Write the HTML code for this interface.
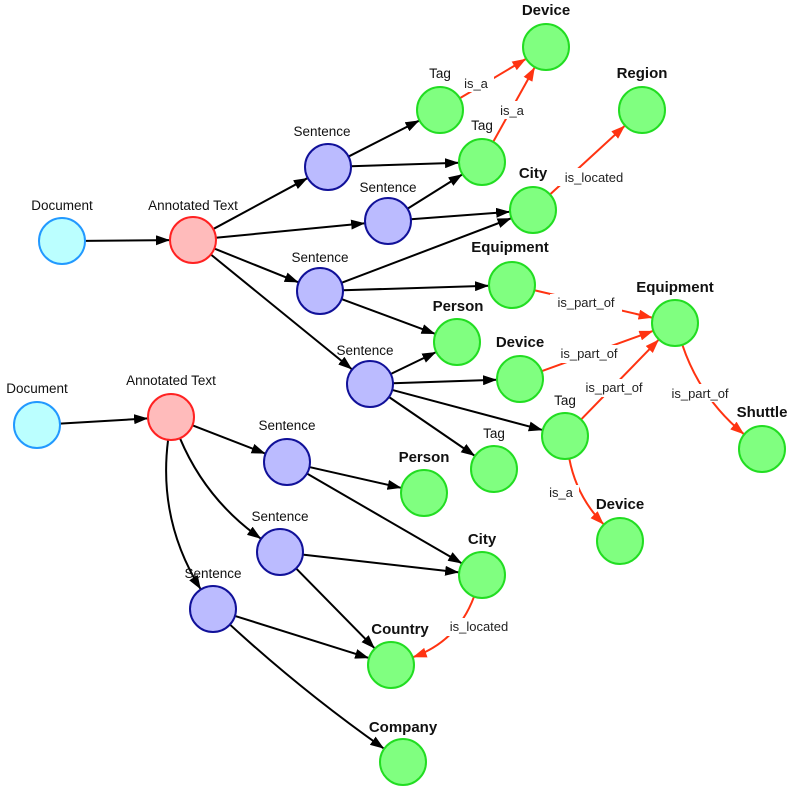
<!DOCTYPE html>
<html><head><meta charset="utf-8"><style>
html,body{margin:0;padding:0;background:#fff;width:794px;height:787px;overflow:hidden}
text{font-family:"Liberation Sans",sans-serif;font-size:13.5px;fill:#111;text-anchor:middle}
text.b{font-weight:bold;font-size:15px}
text.e{font-size:13px;fill:#222}
</style></head><body>
<svg id="s" width="794" height="787" xmlns="http://www.w3.org/2000/svg">
<defs>
<marker id="ak" viewBox="0 0 14 10" refX="14" refY="5" markerWidth="14" markerHeight="10" markerUnits="userSpaceOnUse" orient="auto"><path d="M0,0 L14,5 L0,10 z" fill="#000"/></marker>
<marker id="ar" viewBox="0 0 14 10" refX="14" refY="5" markerWidth="14" markerHeight="10" markerUnits="userSpaceOnUse" orient="auto"><path d="M0,0 L14,5 L0,10 z" fill="#ff3311"/></marker>
</defs>
<g id="edges"></g>
<g id="nodes"></g>
<g id="labels">
<text x="62" y="210">Document</text>
<text x="193" y="210">Annotated Text</text>
<text x="322" y="136">Sentence</text>
<text x="388" y="192">Sentence</text>
<text x="320" y="262">Sentence</text>
<text x="365" y="355">Sentence</text>
<text x="440" y="78">Tag</text>
<text x="482" y="130">Tag</text>
<text x="494" y="438">Tag</text>
<text x="565" y="405">Tag</text>
<text class="b" x="546" y="15">Device</text>
<text class="b" x="642" y="78">Region</text>
<text class="b" x="533" y="178">City</text>
<text class="b" x="510" y="252">Equipment</text>
<text class="b" x="675" y="292">Equipment</text>
<text class="b" x="458" y="311">Person</text>
<text class="b" x="520" y="347">Device</text>
<text class="b" x="762" y="417">Shuttle</text>
<text class="b" x="620" y="509">Device</text>
<text x="37" y="393">Document</text>
<text x="171" y="385">Annotated Text</text>
<text x="287" y="430">Sentence</text>
<text x="280" y="521">Sentence</text>
<text x="213" y="578">Sentence</text>
<text class="b" x="424" y="462">Person</text>
<text class="b" x="482" y="544">City</text>
<text class="b" x="400" y="634">Country</text>
<text class="b" x="403" y="732">Company</text>
</g>
<g id="elabels">
<rect x="458" y="74" width="36" height="18" fill="#fff"/><text class="e" x="476" y="88">is_a</text>
<rect x="494" y="101" width="36" height="18" fill="#fff"/><text class="e" x="512" y="115">is_a</text>
<rect x="558" y="168" width="72" height="18" fill="#fff"/><text class="e" x="594" y="182">is_located</text>
<rect x="550" y="294" width="72" height="18" fill="#fff"/><text class="e" x="586" y="307">is_part_of</text>
<rect x="553" y="345" width="72" height="18" fill="#fff"/><text class="e" x="589" y="358">is_part_of</text>
<rect x="578" y="379" width="72" height="18" fill="#fff"/><text class="e" x="614" y="392">is_part_of</text>
<rect x="664" y="384" width="72" height="18" fill="#fff"/><text class="e" x="700" y="398">is_part_of</text>
<rect x="543" y="485" width="36" height="18" fill="#fff"/><text class="e" x="561" y="497">is_a</text>
<rect x="444" y="618" width="72" height="18" fill="#fff"/><text class="e" x="479" y="631">is_located</text>
</g>
</svg>
<script>
var N={
D1:[62,241,'c'],A1:[193,240,'r'],S1:[328,167,'b'],S2:[388,221,'b'],S3:[320,291,'b'],S4:[370,384,'b'],
T1:[440,110,'g'],Dv1:[546,47,'g'],T2:[482,162,'g'],Rg:[642,110,'g'],C1:[533,210,'g'],E1:[512,285,'g'],
E2:[675,323,'g'],P1:[457,342,'g'],Dv2:[520,379,'g'],T3:[565,436,'g'],T4:[494,469,'g'],Sh:[762,449,'g'],Dv3:[620,541,'g'],
D2:[37,425,'c'],A2:[171,417,'r'],S5:[287,462,'b'],S6:[280,552,'b'],S7:[213,609,'b'],P2:[424,493,'g'],C2:[482,575,'g'],
Co:[391,665,'g'],Cp:[403,762,'g']};
var col={c:['#bbffff','#2299ff'],r:['#ffbbbb','#ff2222'],b:['#bbbbff','#111199'],g:['#80ff80','#22dd22']};
var R=23,ns='http://www.w3.org/2000/svg';
function el(t,a,p){var e=document.createElementNS(ns,t);for(var k in a)e.setAttribute(k,a[k]);p.appendChild(e);return e;}
var ge=document.getElementById('edges'),gn=document.getElementById('nodes');
for(var k in N){var n=N[k];el('circle',{cx:n[0],cy:n[1],r:R,fill:col[n[2]][0],stroke:col[n[2]][1],'stroke-width':2},gn);}
function E(a,b,c,red){var p=N[a],q=N[b];var dx=q[0]-p[0],dy=q[1]-p[1],L=Math.hypot(dx,dy);
var mx=(p[0]+q[0])/2-dy/L*c,my=(p[1]+q[1])/2+dx/L*c;
var ax=mx-p[0],ay=my-p[1],al=Math.hypot(ax,ay);var sx=p[0]+ax/al*R,sy=p[1]+ay/al*R;
var bx=mx-q[0],by=my-q[1],bl=Math.hypot(bx,by);var ex=q[0]+bx/bl*R,ey=q[1]+by/bl*R;
el('path',{d:'M'+sx+','+sy+' Q'+mx+','+my+' '+ex+','+ey,fill:'none',stroke:red?'#ff3311':'#000','stroke-width':2,'marker-end':red?'url(#ar)':'url(#ak)'},ge);}
[['D1','A1'],['A1','S1'],['A1','S2'],['A1','S3'],['A1','S4'],['S1','T1'],['S1','T2'],['S2','T2'],['S2','C1'],['S3','C1'],['S3','E1'],['S3','P1'],['S4','P1'],['S4','Dv2'],['S4','T3'],['S4','T4'],
['D2','A2'],['A2','S5'],['S5','P2'],['S5','C2'],['S6','C2'],['S6','Co'],['S7','Co']].forEach(function(e){E(e[0],e[1],0,false);});
E('A2','S6',25,false);E('A2','S7',35,false);E('S7','Cp',8,false);
[['T1','Dv1',0],['T2','Dv1',0],['C1','Rg',0],['E1','E2',0],['Dv2','E2',0],['T3','E2',0]].forEach(function(e){E(e[0],e[1],e[2],true);});
E('E2','Sh',22,true);E('T3','Dv3',18,true);E('C2','Co',-30,true);
</script>
</body></html>
